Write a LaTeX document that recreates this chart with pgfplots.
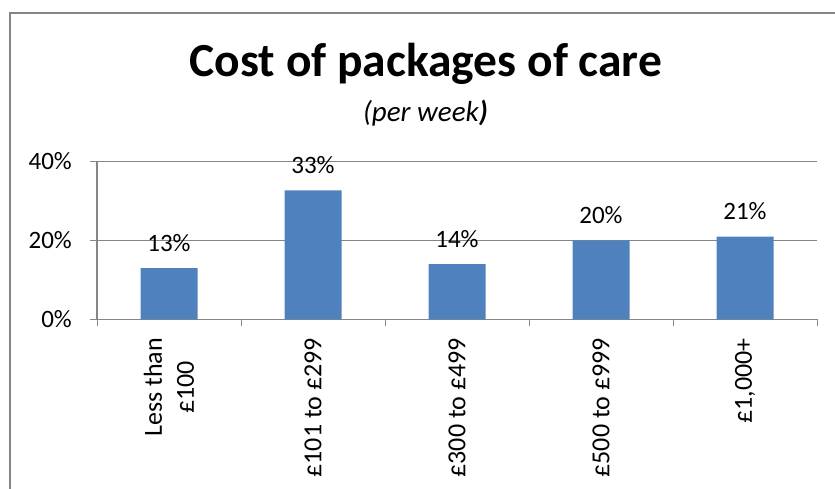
\documentclass[border=0pt]{standalone}
\usepackage{pgfplots}
\pgfplotsset{compat=1.18}
\usepackage{fontspec}
\setmainfont{Carlito}
\definecolor{barblue}{HTML}{4F81BD}
\definecolor{axgray}{HTML}{868686}

\begin{document}
\begin{tikzpicture}[x=1pt,y=1pt]
\useasboundingbox (0,0) rectangle (835,489);
% chart frame (only top and left edges are visible)
\draw[axgray, line width=2pt] (10,-5) -- (10,476) -- (845,476);
\node[font=\fontsize{47.5}{56}\selectfont\bfseries, anchor=base] at (426,412) {Cost of packages of care};
\node[font=\fontsize{29}{34}\selectfont\itshape, anchor=base] at (425.5,367) {(per week\textbf{)}};
\begin{axis}[
  at={(97pt,169.5pt)}, anchor=south west,
  scale only axis, width=720pt, height=158pt,
  ybar, bar width=57pt,
  ymin=0, ymax=40, ytick={0,20,40},
  xmin=-0.5, xmax=4.5,
  xtick={-0.5,0.5,...,4.5}, xticklabels={},
  extra x ticks={0,1,2,3,4},
  extra x tick labels={{Less than\\£100},{£101 to £299},{£300 to £499},{£500 to £999},{£1,000+}},
  extra x tick style={major tick length=0pt,
    xticklabel style={yshift=-18.5pt, rotate=90, anchor=east, align=center, inner sep=0pt,
      font=\fontsize{26}{32}\selectfont}},
  axis lines*=left,
  axis line style={axgray, line width=1.3pt},
  tick style={axgray, line width=1pt},
  tick align=outside, major tick length=7pt,
  ymajorgrids, grid style={axgray, line width=1pt},
  /pgf/number format/assume math mode=true,
  yticklabel={\pgfmathprintnumber{\tick}\%},
  yticklabel style={font=\fontsize{25}{30}\selectfont, anchor=east, inner sep=0pt, xshift=-18pt},
  nodes near coords={\pgfmathprintnumber[fixed,precision=0]{\pgfplotspointmeta}\%},
  every node near coord/.append style={font=\fontsize{25}{30}\selectfont, anchor=base, inner sep=0pt, yshift=17pt},
]
\addplot[fill=barblue, draw=none]
  coordinates {(0,13) (1,32.7) (2,14) (3,20) (4,21)};
\end{axis}
\end{tikzpicture}
\end{document}
